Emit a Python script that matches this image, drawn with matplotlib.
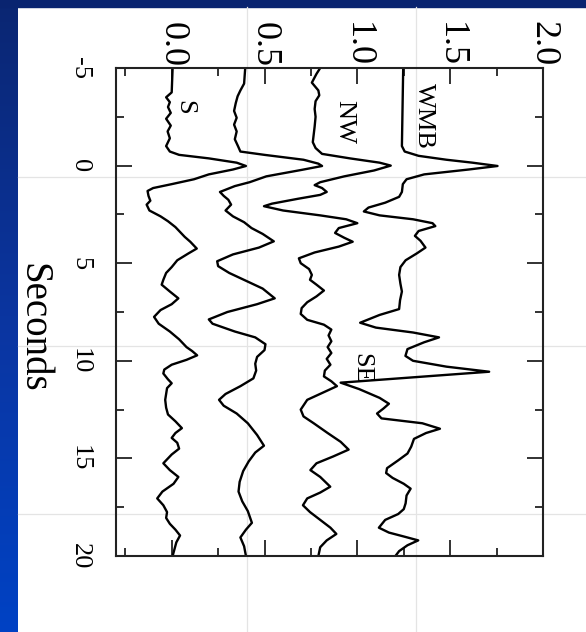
import numpy as np
import matplotlib
matplotlib.use("Agg")
import matplotlib.pyplot as plt
from matplotlib.colors import LinearSegmentedColormap
from matplotlib.lines import Line2D
from matplotlib.patches import Rectangle

plt.rcParams['font.family'] = ['Liberation Serif', 'DejaVu Serif']
plt.rcParams['axes.unicode_minus'] = False

# ---------------- data (time in seconds, amplitude offset) ----------------
s_t = [-5.0, -3.75, -3.5, -3.25, -3.0, -2.7, -2.4, -2.05, -1.75, -1.4, -1.0, -0.72,
       -0.55, -0.37, -0.15, 0.02, 0.2, 0.45, 0.7, 0.95, 1.15, 1.3, 1.55, 1.8, 2.0,
       2.3, 2.6, 2.85, 3.15, 3.4, 3.65, 3.9, 4.25, 4.5, 4.85, 5.2, 5.5, 5.85, 6.1,
       6.45, 6.8, 7.1, 7.4, 7.75, 8.1, 8.5, 8.9, 9.3, 9.5, 9.72, 9.95, 10.2, 10.45,
       10.65, 10.95, 11.15, 11.4, 11.7, 12.0, 12.4, 12.75, 13.1, 13.45, 13.7, 13.95,
       14.2, 14.5, 14.8, 15.25, 15.6, 15.95, 16.3, 16.7, 17.05, 17.4, 17.75, 18.05,
       18.35, 18.65, 18.95, 19.3, 19.65, 20.0]
s_v = [0.005, 0.0, -0.03, -0.01, -0.02, -0.005, -0.03, -0.005, -0.022, -0.01, -0.03, -0.01,
       0.04, 0.2, 0.35, 0.40, 0.33, 0.2, 0.12, 0.0, -0.1, -0.13, -0.125, -0.115, -0.135,
       -0.12, -0.06, -0.02, 0.02, 0.045, 0.07, 0.1, 0.135, 0.09, 0.03, 0.0, -0.03, -0.045, -0.054,
       -0.01, 0.036, 0.0, -0.06, -0.095, -0.07, -0.01, 0.04, 0.08, 0.11, 0.137, 0.08, 0.0, -0.04,
       -0.045, -0.02, 0.0, -0.025, -0.03, -0.035, -0.03, -0.02, 0.02, 0.055, 0.02, 0.0,
       0.03, 0.04, 0.0, -0.045, -0.01, 0.036, 0.01, -0.05, -0.078, -0.045, -0.025, -0.03,
       -0.01, 0.02, 0.045, 0.025, 0.015, 0.005]

b_t = [-5.0, -4.2, -3.85, -3.55, -3.2, -2.8, -2.45, -2.1, -1.75, -1.35, -1.0, -0.72,
       -0.55, -0.3, -0.1, 0.02, 0.22, 0.55, 0.85, 1.05, 1.35, 1.55, 1.75, 2.0, 2.3,
       2.6, 2.9, 3.2, 3.5, 3.88, 4.2, 4.55, 4.9, 5.15, 5.5, 5.9, 6.3, 6.8, 7.1, 7.5,
       7.88, 8.1, 8.5, 8.8, 9.15, 9.45, 9.8, 10.15, 10.5, 10.9, 11.3, 11.7, 12.0, 12.3,
       12.7, 13.2, 13.8, 14.35, 14.7, 15.15, 15.65, 16.2, 16.7, 17.2, 17.7, 18.3, 18.65,
       19.05, 19.5, 20.0]
b_v = [0.396, 0.39, 0.37, 0.355, 0.345, 0.336, 0.35, 0.336, 0.35, 0.34, 0.357, 0.37,
       0.5, 0.71, 0.79, 0.81, 0.70, 0.51, 0.42, 0.34, 0.26, 0.28, 0.305, 0.32, 0.29,
       0.33, 0.39, 0.43, 0.49, 0.55, 0.47, 0.33, 0.245, 0.25, 0.31, 0.4, 0.49, 0.555, 0.46, 0.3,
       0.2, 0.22, 0.34, 0.45, 0.505, 0.5, 0.46, 0.45, 0.455, 0.44, 0.37, 0.29, 0.255, 0.28,
       0.35, 0.41, 0.46, 0.497, 0.45, 0.415, 0.385, 0.366, 0.36, 0.38, 0.41, 0.432, 0.40,
       0.37, 0.39, 0.40]

nw_t = [-5.0, -4.7, -4.25, -3.85, -3.6, -3.3, -2.9, -2.5, -2.0, -1.6, -1.2, -0.9, -0.6,
        -0.37, -0.15, 0.0, 0.25, 0.55, 0.85, 1.0, 1.15, 1.35, 1.5, 1.7, 1.95, 2.08, 2.3,
        2.55, 2.75, 2.95, 3.2, 3.45, 3.7, 3.9, 4.15, 4.45, 4.75, 5.0, 5.3, 5.6, 5.85, 6.1,
        6.4, 6.7, 7.0, 7.3, 7.6, 7.9, 8.15, 8.4, 8.7, 9.0, 9.3, 9.6, 9.9, 10.2, 10.5, 10.8,
        11.05, 11.3, 11.65, 12.0, 12.5, 12.85, 13.2, 13.7, 14.15, 14.55, 14.9, 15.25, 15.6,
        15.95, 16.45, 16.75, 17.05, 17.4, 17.75, 18.15, 18.55, 18.87, 19.2, 19.55, 20.0]
nw_v = [0.80, 0.78, 0.755, 0.79, 0.795, 0.775, 0.77, 0.775, 0.77, 0.765, 0.76, 0.775, 0.81,
        0.96, 1.12, 1.18, 1.09, 0.93, 0.80, 0.77, 0.81, 0.835, 0.80, 0.68, 0.54, 0.497, 0.60,
        0.80, 0.94, 1.0, 0.90, 0.88, 0.93, 0.975, 0.90, 0.77, 0.685, 0.695, 0.74, 0.755, 0.745, 0.78,
        0.82, 0.78, 0.73, 0.70, 0.695, 0.73, 0.82, 0.86, 0.845, 0.86, 0.84, 0.86, 0.835, 0.855, 0.825, 0.82,
        0.86, 0.89, 0.81, 0.73, 0.695, 0.71, 0.765, 0.84, 0.91, 0.953, 0.87, 0.78, 0.747,
        0.80, 0.854, 0.80, 0.73, 0.707, 0.745, 0.80, 0.855, 0.887, 0.835, 0.80, 0.79]

wmb_t = [-5.0, -1.0, -0.72, -0.5, -0.3, -0.15, 0.02, 0.2, 0.45, 0.7, 0.95, 1.35, 1.6,
         1.9, 2.15, 2.35, 2.55, 2.75, 2.95, 3.1, 3.35, 3.6, 3.85, 4.2, 4.5, 4.85, 5.2,
         5.6, 6.05, 6.45, 6.9, 7.35, 7.65, 8.05, 8.3, 8.55, 8.8, 9.05, 9.4, 9.75, 10.0,
         10.3, 10.56]
wmb_v = [1.247, 1.24, 1.255, 1.33, 1.48, 1.62, 1.755, 1.6, 1.36, 1.265, 1.245, 1.24, 1.225,
         1.15, 1.06, 1.035, 1.12, 1.30, 1.405, 1.42, 1.33, 1.31, 1.34, 1.367, 1.32, 1.26, 1.232,
         1.225, 1.232, 1.24, 1.23, 1.225, 1.12, 1.015, 1.1, 1.3, 1.44, 1.36, 1.27, 1.259, 1.3,
         1.48, 1.71]

se_t = [11.12, 11.45, 11.9, 12.2, 12.45, 12.7, 12.95, 13.2, 13.48, 13.7, 14.0, 14.4,
        14.75, 15.1, 15.5, 15.75, 16.0, 16.3, 16.55, 16.9, 17.3, 17.6, 17.85, 18.15,
        18.55, 18.8, 19.0, 19.2, 19.45, 19.75, 20.0]
se_v = [0.91, 1.01, 1.12, 1.17, 1.14, 1.106, 1.13, 1.35, 1.445, 1.37, 1.305, 1.29,
        1.27, 1.22, 1.16, 1.155, 1.19, 1.25, 1.287, 1.265, 1.26, 1.25, 1.22, 1.15,
        1.116, 1.17, 1.25, 1.328, 1.27, 1.225, 1.205]

value_ticks = [0.0, 0.5, 1.0, 1.5, 2.0]
time_ticks = [-5, 0, 5, 10, 15, 20]
trace_labels = ['S', 'NW', 'WMB', 'SE']
label_pos = [(0.068, -3.0), (0.93, -2.23), (1.36, -2.54), (1.022, 10.39)]

# ---------------- figure ----------------
W, H = 586, 632
fig = plt.figure(figsize=(W / 100, H / 100), dpi=100, facecolor='white')

# slide background bands
band = fig.add_axes([0, 0, 18 / W, 1], zorder=-5)
grad = np.linspace(0, 1, 256).reshape(-1, 1)
cmap = LinearSegmentedColormap.from_list('bg', ['#0a2672', '#0b35a0', '#0042c4'])
band.imshow(grad, aspect='auto', cmap=cmap, extent=[0, 1, 0, 1], origin='upper')
band.axis('off')
fig.patches.append(Rectangle((0, 1 - 7 / H), 1, 7 / H, transform=fig.transFigure,
                             color='#092470', zorder=-4))

# faint slide guide lines
for gx in [247, 416]:
    fig.lines.append(Line2D([gx / W, gx / W], [0, 1 - 7 / H], transform=fig.transFigure,
                            color='#e4e4e4', lw=0.9, zorder=-3))
for gy in [177, 346, 514]:
    fig.lines.append(Line2D([18 / W, 1], [1 - gy / H, 1 - gy / H], transform=fig.transFigure,
                            color='#e4e4e4', lw=0.9, zorder=-3))

ax = fig.add_axes([116 / W, 1 - 556 / H, (543 - 116) / W, (556 - 68) / H])
ax.patch.set_facecolor('none')

kw = dict(color='black', lw=1.7, solid_joinstyle='round')
ax.plot(s_v, s_t, **kw)
ax.plot(b_v, b_t, **kw)
ax.plot(nw_v, nw_t, **kw)
ax.plot(wmb_v + se_v, wmb_t + se_t, **kw)

ax.set_xlim(-0.3, 2.0)
ax.set_ylim(20, -5)

ax.set_xticks(value_ticks)
ax.set_xticklabels([f'{v:.1f}' for v in value_ticks])
ax.set_xticks(np.arange(-0.25, 2.0, 0.25), minor=True)
ax.set_yticks(time_ticks)
ax.set_yticklabels([str(t) for t in time_ticks])
ax.set_yticks(np.arange(-2.5, 20, 5), minor=True)

ax.tick_params(which='both', direction='in', top=True, bottom=True, left=True, right=True,
               labeltop=True, labelbottom=False, labelleft=True, labelright=False,
               width=1.3, color='#222222')
ax.tick_params(which='major', length=11.5)
ax.tick_params(which='minor', length=6)
ax.tick_params(axis='x', which='major', pad=1, labelsize=26, labelrotation=-90)
ax.tick_params(axis='y', which='major', pad=18, labelsize=19, labelrotation=-90)
for lab in ax.get_yticklabels():
    lab.set_va('center')
for sp in ax.spines.values():
    sp.set_linewidth(1.5)
    sp.set_color('#222222')

for name, (vx, ty) in zip(trace_labels, label_pos):
    ax.text(vx, ty, name, rotation=-90, ha='center', va='center', fontsize=19)

fig.text(33 / W, 1 - 328 / H, 'Seconds', rotation=-90, ha='center', va='center', fontsize=28)

fig.savefig('out.png', dpi=100, facecolor='white')
